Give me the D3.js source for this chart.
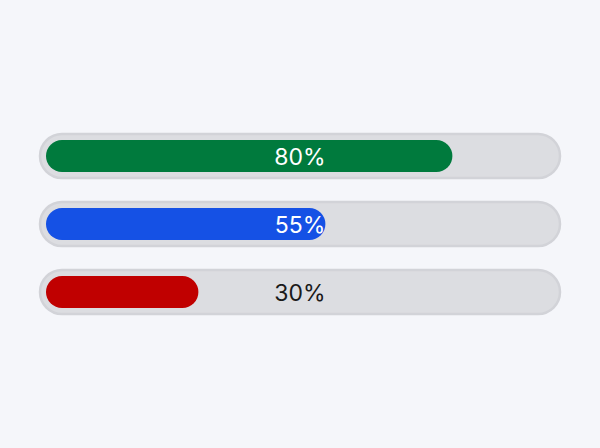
<!DOCTYPE html>
<html lang="en">
<head>
    <meta charset="UTF-8">
    <title>Progress Bars</title>
    <style>
        body {
            margin: 0;
            background-color: #f5f6fa;
            font-family: Inter, "Noto Sans", "Liberation Sans", sans-serif;
        }
        .label {
            font-size: 23px;
            font-weight: 400;
            dominant-baseline: central;
            text-anchor: middle;
        }
    </style>
</head>
<body>
    <div id="chart"></div>

    <script src="https://d3js.org/d3.v7.min.js"></script>
    <script>
        // --- data ---
        const bars = ["a", "b", "c"];
        const values = [80, 55, 30];
        const colors = ["#007a3d", "#1551e5", "#c00000"];

        const width = 600, height = 448;
        const trackH = 44, barH = 32, inset = 6;

        const svg = d3.select("#chart").append("svg")
            .attr("width", width)
            .attr("height", height);

        // vertical placement of the three tracks (step 68, band 44)
        const y = d3.scaleBand()
            .domain(bars)
            .range([134, 314])
            .paddingInner(24 / 68)
            .paddingOuter(0);

        // horizontal scale for the fill (percent -> px)
        const x = d3.scaleLinear()
            .domain([0, 100])
            .range([40 + inset, 560 - inset]);

        const rows = svg.selectAll("g.row")
            .data(bars.map((b, i) => ({ key: b, value: values[i], color: colors[i] })))
            .join("g")
            .attr("class", "row")
            .attr("transform", d => `translate(0, ${y(d.key) + y.bandwidth() / 2})`);

        // track
        rows.append("rect")
            .attr("x", x.range()[0] - inset)
            .attr("y", -trackH / 2)
            .attr("width", x.range()[1] - x.range()[0] + inset * 2)
            .attr("height", trackH)
            .attr("rx", trackH / 2)
            .attr("fill", "#dcdde1")
            .attr("stroke", "#d2d3d8")
            .attr("stroke-width", 2.5);

        // fill
        rows.append("rect")
            .attr("x", x(0))
            .attr("y", -barH / 2)
            .attr("width", d => x(d.value) - x(0))
            .attr("height", barH)
            .attr("rx", barH / 2)
            .attr("fill", d => d.color);

        // label
        rows.append("text")
            .attr("class", "label")
            .attr("x", width / 2)
            .attr("y", 1)
            .attr("fill", d => d.value >= 50 ? "#ffffff" : "#1a1a1a")
            .text(d => d.value + "%");
    </script>
</body>
</html>
